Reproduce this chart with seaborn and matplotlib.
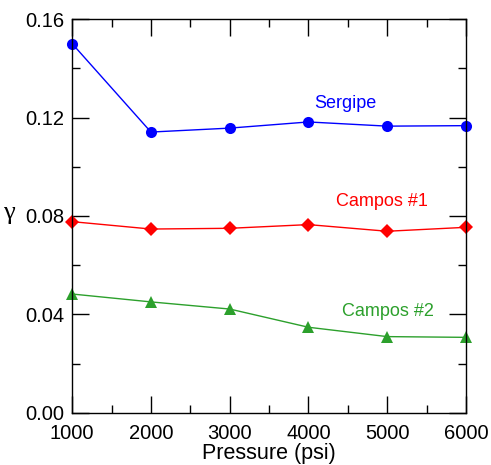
import matplotlib
matplotlib.use('Agg')
import matplotlib.pyplot as plt
import seaborn as sns
import pandas as pd
from matplotlib.ticker import MultipleLocator, FormatStrFormatter

# dados
pressao = [1000, 2000, 3000, 4000, 5000, 6000]
sergipe = [0.150, 0.1141, 0.1157, 0.1182, 0.1165, 0.1167]
campos1 = [0.0777, 0.0747, 0.0750, 0.0765, 0.0738, 0.0754]
campos2 = [0.0483, 0.0451, 0.0422, 0.0348, 0.0310, 0.0307]

series = ['Sergipe', 'Campos #1', 'Campos #2']
cores = {'Sergipe': '#0000ff', 'Campos #1': '#ff0000', 'Campos #2': '#2ca02c'}
marcadores = {'Sergipe': 'o', 'Campos #1': 'D', 'Campos #2': '^'}
tamanhos = {'Sergipe': 8, 'Campos #1': 7, 'Campos #2': 8}
# posição dos rótulos de cada série (em coordenadas de dados)
rotulos = {'Sergipe': (4464, 0.1259), 'Campos #1': (4934, 0.0857), 'Campos #2': (5010, 0.0414)}

df = pd.DataFrame({
    'pressao': pressao * 3,
    'gamma': sergipe + campos1 + campos2,
    'serie': [s for s in series for _ in pressao],
})

sns.set_style('ticks', {'text.color': 'black', 'axes.labelcolor': 'black',
                        'xtick.color': 'black', 'ytick.color': 'black'})
plt.rcParams['font.family'] = ['Liberation Sans', 'DejaVu Sans']

fig, ax = plt.subplots(figsize=(4.91, 4.65), dpi=100)
fig.subplots_adjust(left=0.147, right=0.949, top=0.959, bottom=0.112)

for s in series:
    sns.lineplot(data=df[df['serie'] == s], x='pressao', y='gamma', color=cores[s],
                 marker=marcadores[s], markersize=tamanhos[s], markeredgewidth=0,
                 linewidth=1, ax=ax, clip_on=False)
    ax.text(*rotulos[s], s, color=cores[s], fontsize=13, ha='center', va='center')

ax.set_xlim(1000, 6000)
ax.set_ylim(0, 0.16)
ax.xaxis.set_major_locator(MultipleLocator(1000))
ax.xaxis.set_minor_locator(MultipleLocator(500))
ax.yaxis.set_major_locator(MultipleLocator(0.04))
ax.yaxis.set_minor_locator(MultipleLocator(0.02))
ax.yaxis.set_major_formatter(FormatStrFormatter('%.2f'))
ax.tick_params(which='both', direction='in', top=True, right=True, labelsize=14.5,
               width=1, colors='black')
ax.tick_params(which='major', length=12)
ax.tick_params(which='minor', length=6)
ax.tick_params(axis='x', pad=8)
ax.tick_params(axis='y', pad=5.5)
for sp in ax.spines.values():
    sp.set_linewidth(1)
    sp.set_color('black')

ax.set_xlabel('Pressure (psi)', fontsize=15.5, labelpad=0, color='black')
ax.set_ylabel('γ', fontsize=19, rotation=0, color='black',
              family=['Liberation Serif', 'DejaVu Serif'])
ax.yaxis.set_label_coords(-0.16, 0.48)

plt.savefig('out.png', dpi=100)
